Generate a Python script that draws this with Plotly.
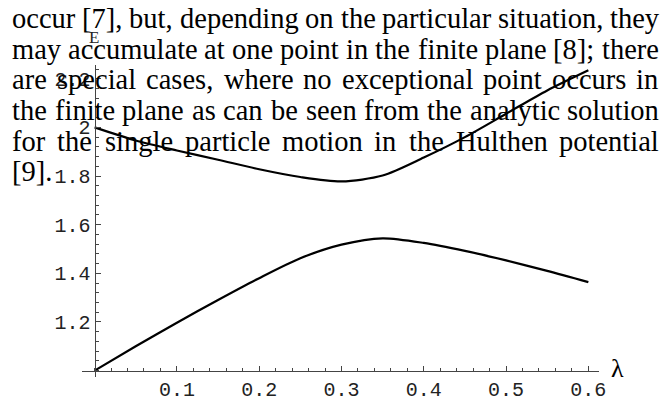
import plotly.graph_objects as go

# data
lam = [0.0, 0.05, 0.1, 0.15, 0.2, 0.25, 0.3, 0.35, 0.4, 0.45, 0.5, 0.55, 0.6]
E_upper = [2.0, 1.946, 1.905, 1.867, 1.828, 1.796, 1.778, 1.802, 1.876, 1.96, 2.056, 2.152, 2.235]
E_lower = [1.0, 1.1, 1.197, 1.29, 1.38, 1.462, 1.518, 1.544, 1.525, 1.492, 1.453, 1.41, 1.364]

x_ticks = [0.1, 0.2, 0.3, 0.4, 0.5, 0.6]
x_ticktext = ["0.1", "0.2", "0.3", "0.4", "0.5", "0.6"]
y_ticks = [1.2, 1.4, 1.6, 1.8, 2.0, 2.2]
y_ticktext = ["1.2", "1.4", "1.6", "1.8", "2", "2.2"]

paragraph = [
    "occur [7], but, depending on the particular situation, they",
    "may accumulate at one point in the finite plane [8]; there",
    "are special cases, where no exceptional point occurs in",
    "the finite plane as can be seen from the analytic solution",
    "for the single particle motion in the Hulthen potential",
    "[9].",
]

W, H = 667, 402
xr = [-0.0153, 0.6126]
yr = [0.972, 2.256]
px0, px1 = 83, 606
py_top, py_bot = 67, 388
xdom = [px0 / W, px1 / W]
ydom = [1 - py_bot / H, 1 - py_top / H]

x_axis_pos = ydom[0] + (1.0 - yr[0]) / (yr[1] - yr[0]) * (ydom[1] - ydom[0])
y_axis_pos = xdom[0] + (0.0 - xr[0]) / (xr[1] - xr[0]) * (xdom[1] - xdom[0])

fig = go.Figure()
for ys in (E_upper, E_lower):
    fig.add_trace(go.Scatter(x=lam, y=ys, mode="lines",
                             line=dict(color="black", width=2.2, shape="spline", smoothing=0.8),
                             showlegend=False, hoverinfo="skip"))

tickfont = dict(family="Liberation Mono", size=20, color="#222")
fig.update_layout(
    width=W, height=H,
    margin=dict(l=0, r=0, t=0, b=0),
    paper_bgcolor="white", plot_bgcolor="white",
    xaxis=dict(domain=xdom, range=xr, anchor="free", position=x_axis_pos,
               showgrid=False, zeroline=False, showline=True, linecolor="#444", linewidth=1,
               tickmode="array", tickvals=x_ticks, ticktext=x_ticktext,
               ticks="inside", ticklen=5, tickcolor="#444", tickfont=tickfont,
               minor=dict(dtick=0.02, tick0=0, ticks="inside", ticklen=3, tickcolor="#444", showgrid=False)),
    yaxis=dict(domain=ydom, range=yr, anchor="free", position=y_axis_pos,
               showgrid=False, zeroline=False, showline=True, linecolor="#444", linewidth=1,
               tickmode="array", tickvals=y_ticks, ticktext=y_ticktext,
               ticks="inside", ticklen=5, tickcolor="#444", tickfont=tickfont,
               minor=dict(dtick=0.04, tick0=0, ticks="inside", ticklen=3, tickcolor="#444", showgrid=False)),
)

# axis labels
fig.add_annotation(x=95 / W, y=1 - 39 / H, xref="paper", yref="paper", text="E",
                   xanchor="center", yanchor="middle", showarrow=False, borderpad=0,
                   font=dict(family="Liberation Serif", size=17, color="#222"))
fig.add_annotation(x=625 / W, y=1 - 379 / H, xref="paper", yref="paper", text="λ",
                   xanchor="center", yanchor="middle", showarrow=False, borderpad=0,
                   font=dict(family="Liberation Serif", size=26, color="black"))

# justified paragraph text (Times-metric advance widths, per 1000 em)
adv = {' ': 250, 'a': 444, 'b': 500, 'c': 444, 'd': 500, 'e': 444, 'f': 333, 'g': 500,
       'h': 500, 'i': 278, 'j': 278, 'k': 500, 'l': 278, 'm': 778, 'n': 500, 'o': 500,
       'p': 500, 'q': 500, 'r': 333, 's': 389, 't': 278, 'u': 500, 'v': 500, 'w': 722,
       'x': 500, 'y': 500, 'z': 444, 'H': 722, '[': 333, ']': 333, ',': 250, '.': 250,
       ';': 278}
fs = 28.5
left, right = 11, 665
baselines = [28, 59, 90, 122, 154, 185]


def wwidth(w):
    return sum(adv.get(c, 500) for c in w) / 1000 * fs


for i, (line, b) in enumerate(zip(paragraph, baselines)):
    words = line.split(" ")
    ymid = 1 - (b - 0.3 * fs) / H
    if i == len(paragraph) - 1 or len(words) == 1:
        fig.add_annotation(x=left / W, y=ymid, xref="paper", yref="paper", text=line,
                           xanchor="left", yanchor="middle", showarrow=False, borderpad=0,
                           font=dict(family="Liberation Serif", size=fs, color="black"))
        continue
    widths = [wwidth(w) for w in words]
    gap = (right - left - sum(widths)) / (len(words) - 1)
    xpos = left
    for w, wd in zip(words, widths):
        fig.add_annotation(x=xpos / W, y=ymid, xref="paper", yref="paper", text=w,
                           xanchor="left", yanchor="middle", showarrow=False, borderpad=0,
                           font=dict(family="Liberation Serif", size=fs, color="black"))
        xpos += wd + gap

fig.write_html("out.html", config={"displayModeBar": False},
               post_script="document.body.style.margin='0';document.body.style.overflow='hidden';")
